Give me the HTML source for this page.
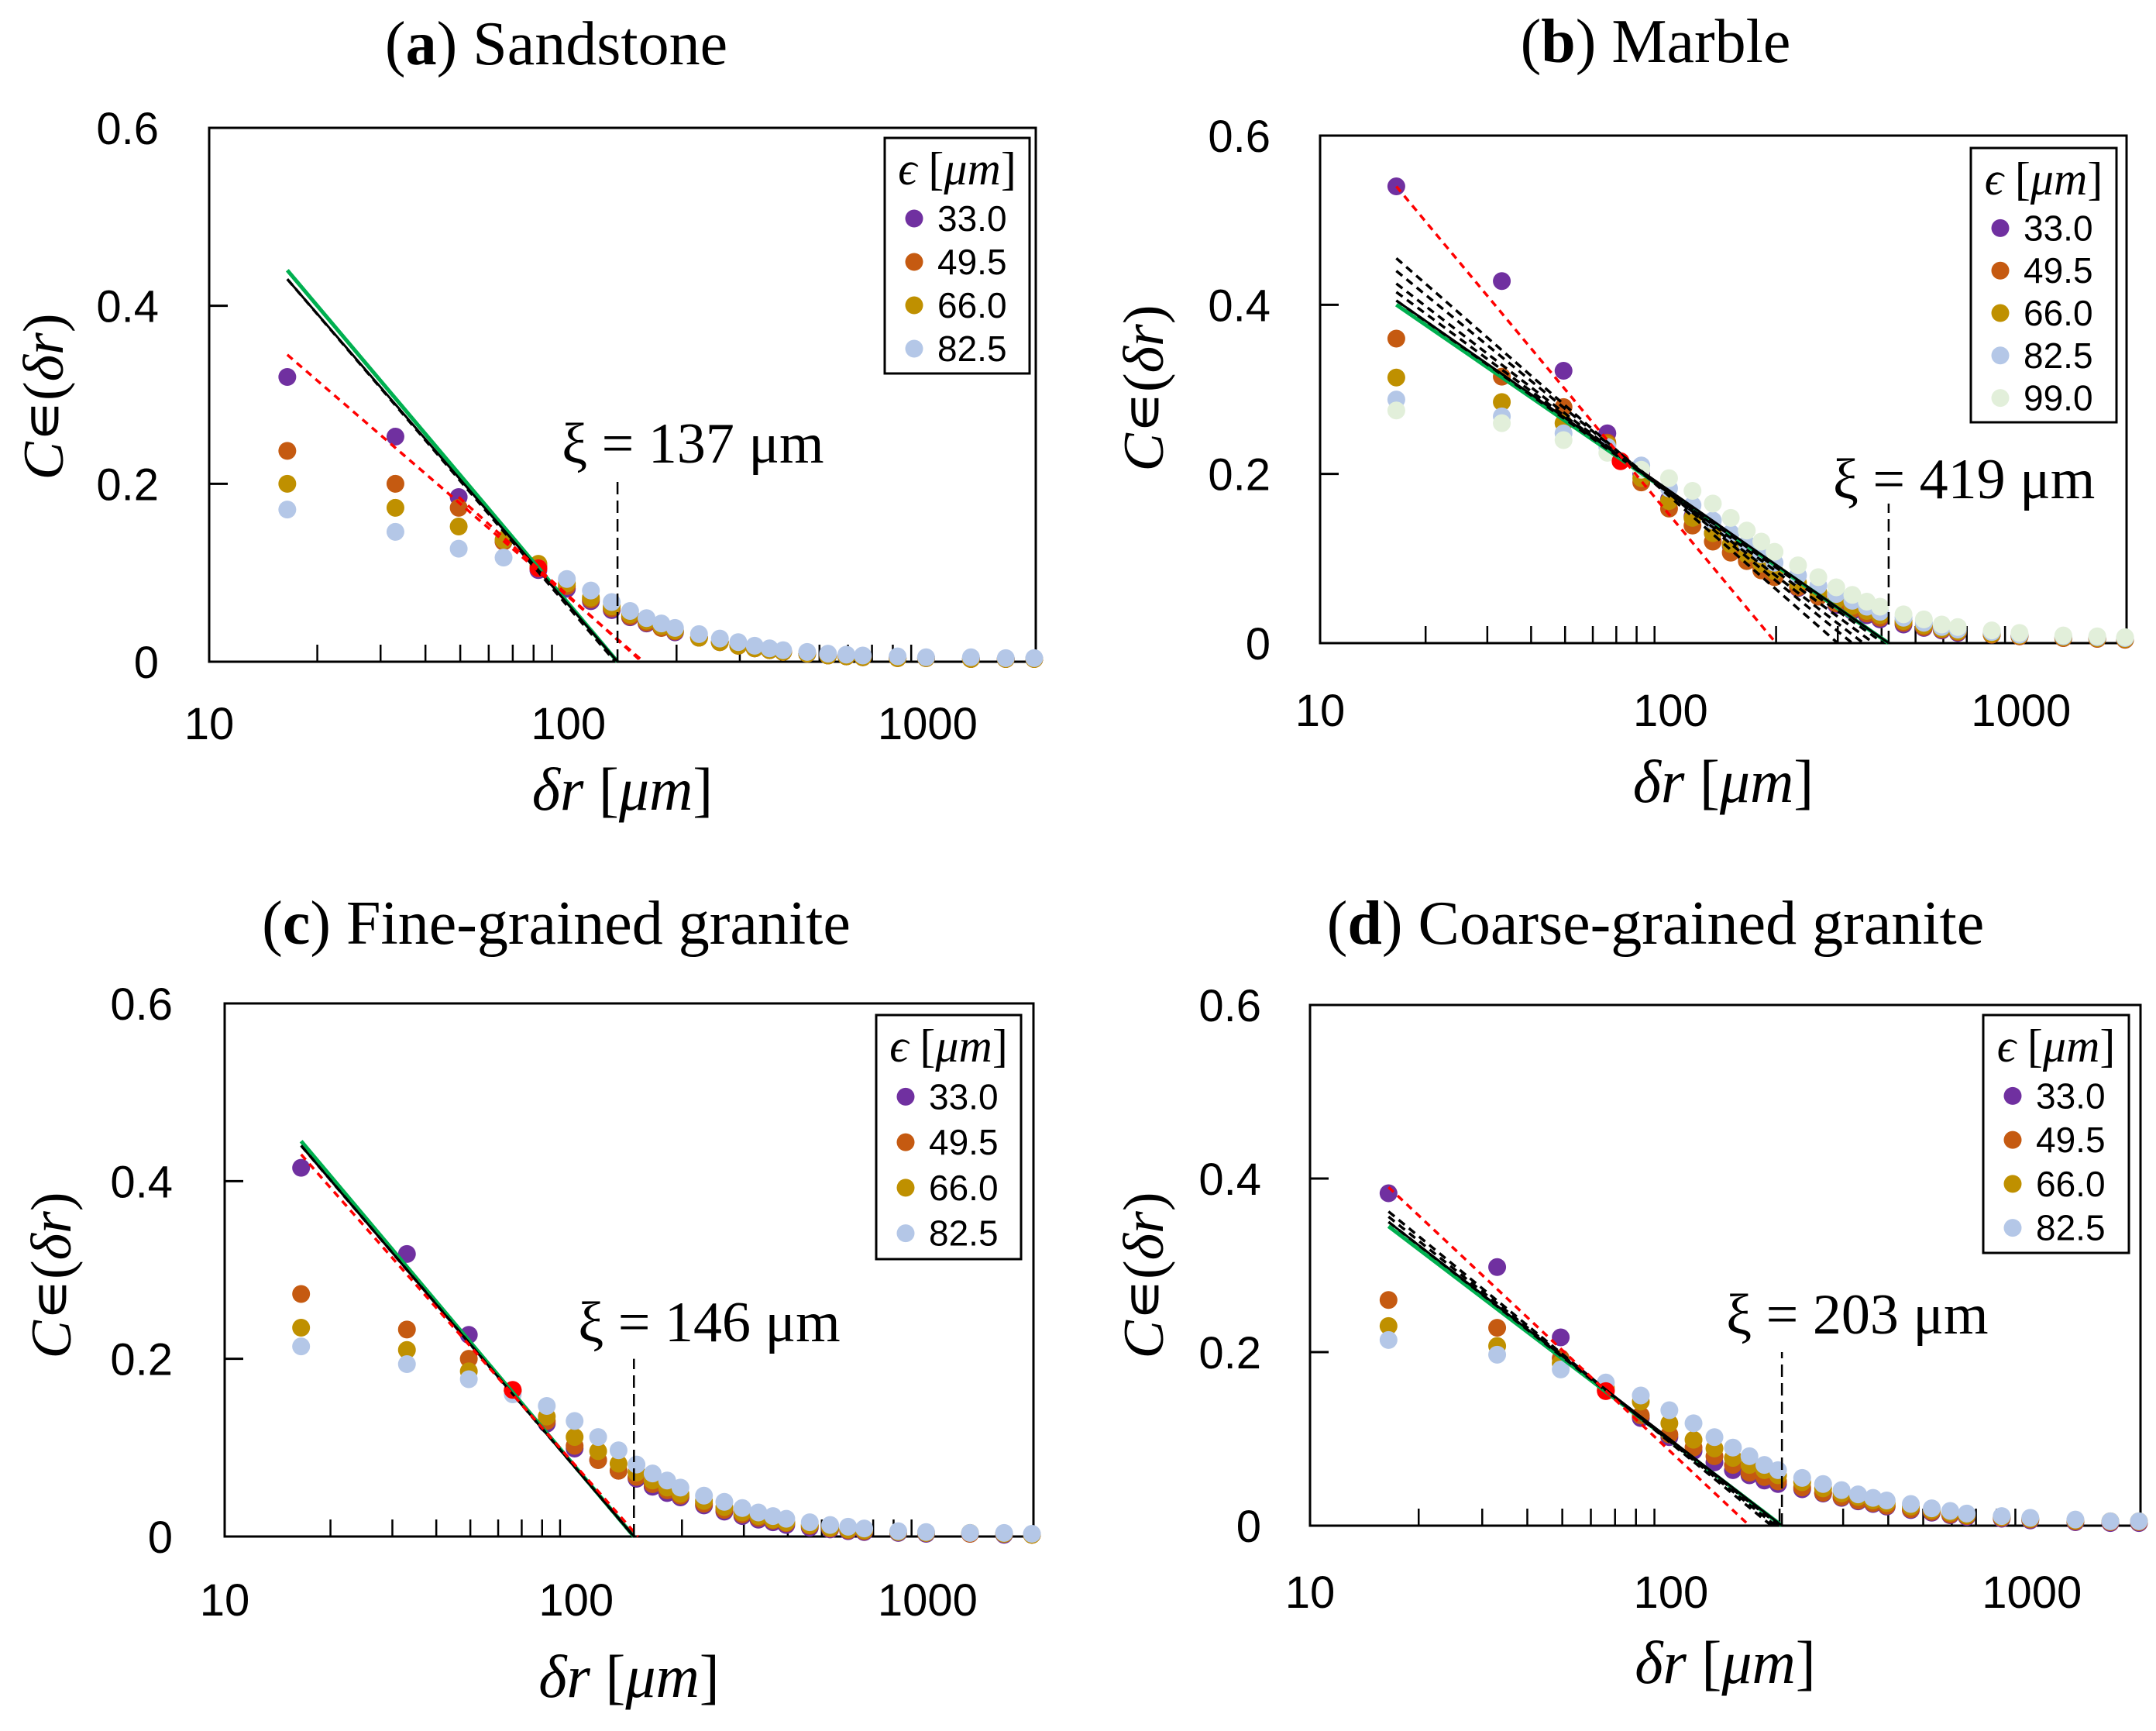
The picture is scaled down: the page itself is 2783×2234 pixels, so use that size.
<!DOCTYPE html>
<html><head><meta charset="utf-8"><style>
html,body{margin:0;padding:0;background:#fff;}
svg{display:block;}
</style></head><body>
<svg id="fig" xmlns="http://www.w3.org/2000/svg" width="2783" height="2234" viewBox="0 0 2783 2234"></svg>
<script>
const deltaR=[16.5,33,49.5,66,82.5,99,115.5,132,148.5,165,181.5,198,231,264,297,330,363,396,462,528,594,660,825,990,1320,1650,1980];
const xTickLabels=["10","100","1000"];
const yTickLabels=["0","0.2","0.4","0.6"];
const yTickValues=[0,0.2,0.4,0.6];
const epsLabels=["33.0","49.5","66.0","82.5","99.0"];
const epsColors=["#7030a0","#c55a11","#bf9000","#b4c7e7","#e2efda"];
const tail=[0.027,0.022,0.018,0.015,0.013,0.011,0.009,0.007,0.006,0.005,0.004,0.004,0.003,0.003,0.003];
// Sandstone
const a33=[0.32,0.253,0.185,0.135,0.103,0.082,0.068,0.058,0.05,0.043,0.038,0.033].concat(tail);
const a49=[0.237,0.2,0.173,0.135,0.107,0.085,0.07,0.06,0.051,0.044,0.038,0.034].concat(tail);
const a66=[0.2,0.173,0.152,0.137,0.11,0.088,0.072,0.062,0.053,0.046,0.04,0.035].concat(tail);
const a82=[0.171,0.146,0.127,0.117,0.105,0.093,0.08,0.067,0.057,0.049,0.043,0.038,0.031,0.026,0.022,0.018,0.015,0.013,0.011,0.009,0.008,0.007,0.006,0.005,0.005,0.004,0.004];
// Marble
const b33=[0.54,0.428,0.322,0.248,0.2,0.17,0.15,0.13,0.115,0.1,0.09,0.08,0.065,0.055,0.045,0.038,0.033,0.028,0.022,0.018,0.015,0.012,0.01,0.008,0.006,0.005,0.004];
const b49=[0.36,0.315,0.279,0.237,0.19,0.159,0.139,0.12,0.107,0.097,0.086,0.078,0.066,0.055,0.047,0.04,0.035,0.03,0.024,0.019,0.016,0.013,0.01,0.008,0.006,0.005,0.004];
const b66=[0.314,0.285,0.26,0.235,0.195,0.168,0.148,0.13,0.117,0.105,0.094,0.085,0.071,0.06,0.051,0.044,0.038,0.033,0.026,0.021,0.017,0.014,0.011,0.009,0.007,0.006,0.005];
const b82=[0.288,0.268,0.248,0.232,0.21,0.183,0.163,0.145,0.13,0.117,0.105,0.095,0.08,0.068,0.058,0.05,0.043,0.037,0.03,0.024,0.019,0.016,0.013,0.01,0.008,0.007,0.006];
const b99=[0.275,0.26,0.24,0.225,0.205,0.195,0.18,0.165,0.148,0.133,0.12,0.108,0.092,0.078,0.066,0.057,0.049,0.043,0.034,0.028,0.022,0.019,0.015,0.012,0.009,0.008,0.007];
// Fine-grained granite
const c33=[0.415,0.318,0.227,0.164,0.127,0.099,0.086,0.074,0.065,0.056,0.049,0.044,0.035,0.028,0.023,0.019,0.016,0.013,0.01,0.008,0.006,0.005,0.004,0.003,0.003,0.002,0.002];
const c49=[0.273,0.233,0.2,0.164,0.13,0.102,0.086,0.074,0.067,0.059,0.052,0.046,0.037,0.03,0.025,0.021,0.018,0.015,0.012,0.009,0.007,0.006,0.005,0.004,0.003,0.003,0.002];
const c66=[0.235,0.21,0.186,0.164,0.135,0.112,0.096,0.082,0.072,0.063,0.055,0.048,0.04,0.033,0.027,0.023,0.019,0.016,0.013,0.01,0.008,0.007,0.005,0.004,0.004,0.003,0.002];
const c82=[0.214,0.194,0.177,0.16,0.147,0.13,0.112,0.097,0.081,0.071,0.063,0.055,0.046,0.039,0.032,0.027,0.023,0.02,0.016,0.013,0.011,0.009,0.006,0.005,0.004,0.004,0.003];
// Coarse-grained granite
const d33=[0.383,0.298,0.217,0.156,0.124,0.102,0.086,0.073,0.064,0.058,0.052,0.048,0.042,0.037,0.032,0.028,0.025,0.022,0.018,0.015,0.012,0.01,0.008,0.006,0.004,0.003,0.003];
const d49=[0.26,0.228,0.193,0.156,0.127,0.105,0.09,0.08,0.07,0.061,0.056,0.051,0.044,0.038,0.033,0.029,0.026,0.023,0.019,0.016,0.013,0.011,0.009,0.007,0.005,0.004,0.004];
const d66=[0.23,0.207,0.187,0.159,0.143,0.118,0.099,0.089,0.078,0.07,0.064,0.058,0.05,0.043,0.037,0.033,0.029,0.026,0.022,0.018,0.015,0.012,0.01,0.008,0.006,0.005,0.005];
const d82=[0.214,0.197,0.18,0.165,0.15,0.133,0.118,0.102,0.09,0.08,0.07,0.064,0.055,0.048,0.041,0.036,0.032,0.029,0.025,0.02,0.017,0.014,0.011,0.009,0.007,0.005,0.005];
// fit lines: [x0, y0, xIntercept]
const aFitsRed=[[16.5,0.345,162],[49.5,0.185,160]];
const aFitsBlack=[[16.5,0.43,135]];
const aFitGreen=[16.5,0.44,137];
const bFitsRed=[[16.5,0.54,200]];
const bFitsBlack=[[16.5,0.455,300],[16.5,0.44,330],[16.5,0.425,355],[16.5,0.415,380],[16.5,0.405,405]];
const bFitGreen=[16.5,0.40,419];
const cFitsRed=[[16.5,0.43,150]];
const cFitsBlack=[[16.5,0.44,146]];
const cFitGreen=[16.5,0.445,146];
const dFitsRed=[[16.5,0.39,165]];
const dFitsBlack=[[16.5,0.362,190],[16.5,0.356,195],[16.5,0.35,200]];
const dFitGreen=[16.5,0.345,203];
const xiValues=[137,419,146,203];
const xiLineTops=[0.208,0.165,0.2,0.2];
const redPoints=[[82.5,0.105],[72,0.215],[66,0.165],[66,0.155]];

const panels=[
 {id:"a",bold:"a",title:" Sandstone",L:270,T:165,R:1337,B:854,tx:718,ty:83,series:[a33,a49,a66,a82],red:aFitsRed,black:aFitsBlack,green:aFitGreen,leg:[1142,178,1329,482],ylx:205,xlb:954,xtb:1045,ytx:57,yty:512,xib:597},
 {id:"b",bold:"b",title:" Marble",L:1704,T:175,R:2745,B:830,tx:2137,ty:80,series:[b33,b49,b66,b82,b99],red:bFitsRed,black:bFitsBlack,green:bFitGreen,leg:[2544,191,2732,545],ylx:1640,xlb:937,xtb:1035,ytx:1477,yty:501,xib:643},
 {id:"c",bold:"c",title:" Fine-grained granite",L:290,T:1295,R:1334,B:1983,tx:718,ty:1218,series:[c33,c49,c66,c82],red:cFitsRed,black:cFitsBlack,green:cFitGreen,leg:[1131,1310,1318,1625],ylx:223,xlb:2085,xtb:2190,ytx:67,yty:1646,xib:1731},
 {id:"d",bold:"d",title:" Coarse-grained granite",L:1691,T:1297,R:2763,B:1969,tx:2137,ty:1218,series:[d33,d49,d66,d82],red:dFitsRed,black:dFitsBlack,green:dFitGreen,leg:[2560,1310,2748,1617],ylx:1628,xlb:2075,xtb:2172,ytx:1477,yty:1646,xib:1721}
];
const NS="http://www.w3.org/2000/svg";
const svg=document.getElementById("fig");
function mk(tag,attrs,parent){const e=document.createElementNS(NS,tag);for(const k in attrs)e.setAttribute(k,attrs[k]);(parent||svg).appendChild(e);return e;}
const SANS='"Liberation Sans", sans-serif', SERIF='"Liberation Serif", "DejaVu Serif", serif';
function addMixed(t,parts){parts.forEach(([s,it])=>{const sp=mk("tspan",it?{"font-style":"italic"}:{},t);sp.textContent=s;});}

panels.forEach((p,pi)=>{
 const g=mk("g",{});
 
 
 const xmin=Math.log10(10), xmax=Math.log10(2000);
 const X=v=>p.L+(Math.log10(v)-xmin)/(xmax-xmin)*(p.R-p.L);
 const Y=v=>p.B-v/0.6*(p.B-p.T);
 const t=mk("text",{x:p.tx,y:p.ty,"text-anchor":"middle","font-family":SERIF,"font-size":80},g);
 
 
 t.appendChild(document.createTextNode("("));
 const tb=mk("tspan",{"font-weight":"bold"},t);tb.textContent=p.bold;
 t.appendChild(document.createTextNode(")"+p.title));
 const fr=mk("rect",{x:p.L,y:p.T,width:p.R-p.L,height:p.B-p.T,fill:"none",stroke:"#000","stroke-width":3},g);
 
 
 yTickValues.forEach((v,i)=>{
  if(v>0&&v<0.6){const tk=mk("line",{x1:p.L,x2:p.L+24,y1:Y(v),y2:Y(v),stroke:"#000","stroke-width":3},g);
   
   }
  const lb=mk("text",{x:p.ylx,y:Y(v)+21,"text-anchor":"end","font-family":SANS,"font-size":58},g);
  
  
  lb.textContent=yTickLabels[i];
 });
 for(let dec=10;dec<=1000;dec*=10){for(let m=2;m<=9;m++){const v=dec*m;if(v>2000)break;
  const tk=mk("line",{x1:X(v),x2:X(v),y1:p.B,y2:p.B-22,stroke:"#000","stroke-width":2.5},g);
  
  }}
 xTickLabels.forEach((s)=>{
  const lb=mk("text",{x:X(+s),y:p.xlb,"text-anchor":"middle","font-family":SANS,"font-size":58},g);
  
  
  lb.textContent=s;
 });
 const xt=mk("text",{x:(p.L+p.R)/2,y:p.xtb,"text-anchor":"middle","font-family":SERIF,"font-size":78},g);
 
 
 addMixed(xt,[["δr ",true],["[",false],["μm",true],["]",false]]);
 const yt=mk("text",{x:p.ytx,y:p.yty,"text-anchor":"middle","font-family":SERIF,"font-size":74,transform:`rotate(-90 ${p.ytx} ${p.yty})`,"dominant-baseline":"central"},g);
 
 
 addMixed(yt,[["C",true],["∊",false],["(",false],["δr",true],[")",false]]);
 p.series.forEach((arr,si)=>{
  arr.forEach((v,i)=>{
   const c=mk("circle",{cx:X(deltaR[i]),cy:Y(v),r:11.5,fill:epsColors[si]},g);
   
   
  });
 });
 const rp=redPoints[pi];
 const rc=mk("circle",{cx:X(rp[0]),cy:Y(rp[1]),r:11.5,fill:"#ff0000"},g);
 
 
 const fit=(f,stroke,dash,w,name)=>{
  const [x0,y0,x1]=f;
  const ln=mk("line",{x1:X(x0),y1:Y(y0),x2:X(x1),y2:Y(0),stroke:stroke,"stroke-width":w},g);
  if(dash)ln.setAttribute("stroke-dasharray",dash);
  
  
 };
 fit(p.green,"#00b050",null,5,"fit-line-green");
 p.black.forEach(f=>fit(f,"#000","10,7",3.5,"fit-line-black-dashed"));
 fit([p.black[p.black.length-1][0],p.black[p.black.length-1][1],xiValues[pi]],"#000",null,3,"fit-line-black");
 p.red.forEach(f=>fit(f,"#ff0000","9,7",3.5,"fit-line-red-dashed"));
 const xl=mk("line",{x1:X(xiValues[pi]),x2:X(xiValues[pi]),y1:p.B,y2:Y(xiLineTops[pi]),stroke:"#000","stroke-width":2.5,"stroke-dasharray":"16,8"},g);
 
 
 const xlab=mk("text",{x:X(xiValues[pi])-72,y:p.xib,"font-family":SERIF,"font-size":74},g);
 
 
 xlab.textContent="ξ = "+xiValues[pi]+" μm";
 const [lx0,ly0,lx1,ly1]=p.leg;
 const lg=mk("g",{},g);
 
 
 mk("rect",{x:lx0,y:ly0,width:lx1-lx0,height:ly1-ly0,fill:"#fff",stroke:"#000","stroke-width":3},lg);
 const lt=mk("text",{x:(lx0+lx1)/2,y:ly0+60,"text-anchor":"middle","font-family":SERIF,"font-size":60},lg);
 
 
 addMixed(lt,[["ϵ ",true],["[",false],["μm",true],["]",false]]);
 const n=p.series.length;
 const step=(ly1-ly0-80)/n;
 for(let i=0;i<n;i++){
  const cy=ly0+80+step*(i+0.5)-4;
  const e=mk("g",{},lg);
  
  
  mk("circle",{cx:lx0+38,cy:cy,r:11.5,fill:epsColors[i]},e);
  const tx=mk("text",{x:lx0+68,y:cy+16,"font-family":SANS,"font-size":46},e);
  tx.textContent=epsLabels[i];
 }
});
</script>
</body></html>
